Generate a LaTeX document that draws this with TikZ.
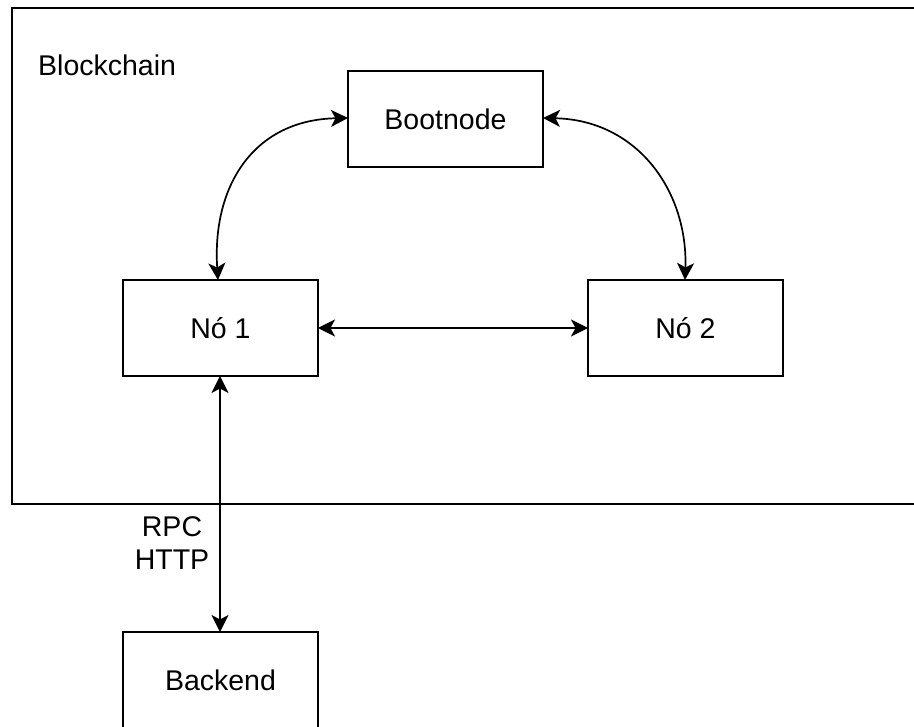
\documentclass[tikz,border=0pt]{standalone}
\usepackage{fontspec}
\setmainfont{Liberation Sans}
\usetikzlibrary{arrows.meta}
\begin{document}
\begin{tikzpicture}[x=1pt,y=-1pt,
  box/.style={draw, line width=1.5pt, rectangle, minimum width=195pt,
    minimum height=96pt, inner sep=0pt, outer sep=0pt,
    font=\fontsize{28.5}{33}\selectfont},
  link/.style={line width=1.7pt, {Stealth[length=17pt,width=17pt,inset=4.5pt]}-{Stealth[length=17pt,width=17pt,inset=4.5pt]}},
  lbl/.style={font=\fontsize{28.5}{33}\selectfont, inner sep=0pt}]
  \useasboundingbox (0,0) rectangle (914,727);
  \fill[white] (0,0) rectangle (914,727);

  % blockchain frame (runs past the right edge)
  \draw[line width=1.5pt] (12,8) rectangle (940,504);
  \node[lbl, anchor=west] (chain) at (38,65) {Blockchain};

  % nodes
  \node[box] (boot) at (445.5,119) {Bootnode};
  \node[box] (n1) at (220.5,328) {Nó 1};
  \node[box] (n2) at (685.5,328) {Nó 2};
  \node[box] (back) at (220.5,680) {Backend};

  % peer links
  \draw[link] ([yshift=1pt]boot.west) .. controls (252,120) and (212,188) .. ([xshift=-2.5pt]n1.north);
  \draw[link] ([yshift=1pt]boot.east) .. controls (638,120) and (688,192) .. ([xshift=-0.5pt]n2.north);
  \draw[link] (n1.east) -- (n2.west);

  % client link
  \draw[link] ([xshift=-0.5pt]n1.south) -- ([xshift=-0.5pt]back.north);
  \node[lbl, align=center] (rpc) at (172,543) {RPC\\HTTP};
\end{tikzpicture}
\end{document}
